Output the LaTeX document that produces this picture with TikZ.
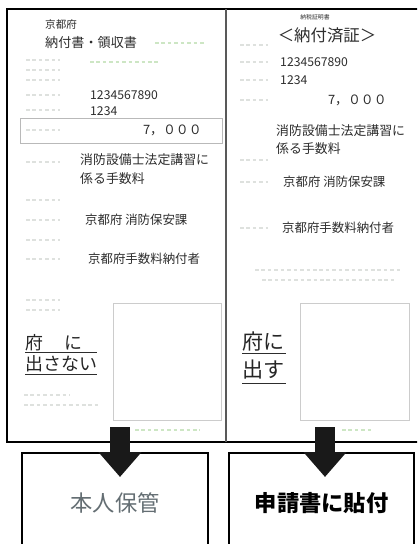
\documentclass[tikz,border=0pt]{standalone}
\usepackage{fontspec}
\setmainfont{Noto Sans CJK JP}
\usetikzlibrary{arrows.meta}
\definecolor{formink}{RGB}{45,45,45}
\definecolor{faintink}{RGB}{222,225,222}
\definecolor{faintgreen}{RGB}{205,230,196}
\definecolor{keepgray}{RGB}{100,110,115}
\newcommand{\fsz}[1]{\fontsize{#1}{#1}\selectfont}

\begin{document}
\begin{tikzpicture}[x=0.03cm,y=-0.03cm,
  ink/.style={text=formink,inner sep=0pt,anchor=west},
  slipline/.style={draw=black,line width=1.6pt},
  stampbox/.style={draw=gray!40,line width=0.7pt},
  resultbox/.style={draw=black,line width=1.8pt,anchor=north west,minimum height=3cm},
  bigarrow/.style={line width=0.6cm,-{Triangle[length=0.75cm,width=1.25cm]},black!90},
  faint/.style={draw=faintink,line width=1.4pt,dash pattern=on 3pt off 2.5pt},
  uline/.style={draw=formink,line width=0.8pt}]
\clip (0,0) rectangle (417,544);
\fill[white] (0,0) rectangle (417,544);

% frame of the two slips
\draw[slipline] (422,9) -- (7,9) -- (7,442) -- (422,442);
\draw[draw=gray!70!black,line width=1.2pt] (226,9) -- (226,442);

% left slip (kept by the payer)
\node[ink] (lpref) at (45,25) {\fsz{9pt}京都府};
\node[ink] (ltitle) at (45,43) {\fsz{11.2pt}納付書・領収書};
\node[ink] (lnum) at (90,95) {\fsz{10.4pt}1234567890};
\node[ink] (lcode) at (90,111) {\fsz{10.4pt}1234};
\draw[stampbox,draw=gray!55] (20,118) rectangle (222,143);
\node[ink,anchor=east] (lsum) at (202,130) {\fsz{11pt}7，０００};
\node[ink] (lfee) at (80,160) {\fsz{11pt}消防設備士法定講習に};
\node[ink] (lfee2) at (80,179) {\fsz{11pt}係る手数料};
\node[ink] (lsect) at (85,220) {\fsz{10.6pt}京都府 消防保安課};
\node[ink] (lpayer) at (88,259) {\fsz{10.6pt}京都府手数料納付者};
\node[ink,text=black!85] (lno) at (25,343) {\fsz{15.3pt}府\hspace{1.2em}に};
\node[ink,text=black!85] (lno2) at (25,364) {\fsz{15.3pt}出さない};
\draw[uline] (25,352) -- (97,352);
\draw[uline] (25,374) -- (97,374);
\draw[stampbox] (113,303) rectangle (221,420);

% right slip (attached to the application)
\node[ink,anchor=center] (rhead) at (315,17) {\fsz{5pt}納税証明書};
\node[ink,anchor=center] (rtitle) at (327,35) {\fsz{14pt}＜納付済証＞};
\node[ink] (rnum) at (280,62) {\fsz{10.4pt}1234567890};
\node[ink] (rcode) at (280,80) {\fsz{10.4pt}1234};
\node[ink,anchor=east] (rsum) at (387,100) {\fsz{11pt}7，０００};
\node[ink] (rfee) at (276,131) {\fsz{11pt}消防設備士法定講習に};
\node[ink] (rfee2) at (276,149) {\fsz{11pt}係る手数料};
\node[ink] (rsect) at (283,182) {\fsz{10.6pt}京都府 消防保安課};
\node[ink] (rpayer) at (282,228) {\fsz{10.6pt}京都府手数料納付者};
\node[ink,text=black!85] (ryes) at (242,342) {\fsz{18pt}府に};
\node[ink,text=black!85] (ryes2) at (242,370) {\fsz{18pt}出す};
\draw[uline] (242,353) -- (286,353);
\draw[uline] (242,383) -- (286,383);
\draw[stampbox] (300,303) rectangle (409,420);

% faint printed labels of the form
\foreach \y in {60,70,80,95,110,130,162,200,220,240,259,300,310} {
  \draw[faint] (26,\y) -- (60,\y);
}
\foreach \y in {45,62,80,100,160,182,228} {
  \draw[faint] (240,\y) -- (268,\y);
}
\draw[faint] (24,395) -- (70,395);
\draw[faint] (24,405) -- (100,405);
\draw[faint] (255,270) -- (400,270);
\draw[faint] (262,280) -- (395,280);
\draw[faint,draw=faintgreen] (155,43) -- (205,43);
\draw[faint,draw=faintgreen] (90,62) -- (160,62);
\draw[faint,draw=faintgreen] (135,430) -- (200,430);
\draw[faint,draw=faintgreen] (342,430) -- (372,430);

% where each part goes
\node[resultbox,minimum width=5.58cm] (keep) at (21,452) {\fsz{19pt}\color{keepgray}本人保管};
\node[resultbox,minimum width=5.55cm] (attach) at (228,452) {\fsz{19pt}\bfseries 申請書に貼付};
\coordinate (lfoot) at (120,427);
\coordinate (ltip) at (120,477);
\coordinate (rfoot) at (325,427);
\coordinate (rtip) at (325,477);
\draw[bigarrow] (lfoot) -- (ltip);
\draw[bigarrow] (rfoot) -- (rtip);
\end{tikzpicture}
\end{document}
